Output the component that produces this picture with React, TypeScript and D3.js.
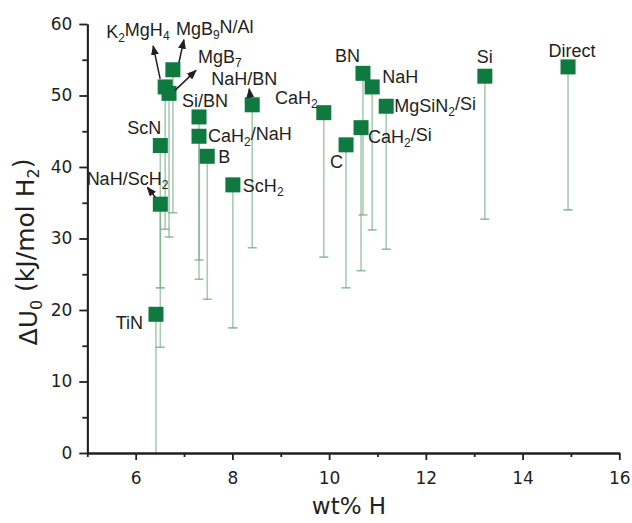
import React, { useEffect, useRef } from 'react';
import * as d3 from 'd3';

// compound names, "_n" marks a subscript digit
const names = ['TiN', 'NaH/ScH_2', 'ScN', 'K_2MgH_4', 'MgB_7', 'MgB_9N/Al', 'Si/BN', 'CaH_2/NaH', 'B', 'ScH_2',
  'NaH/BN', 'CaH_2', 'C', 'CaH_2/Si', 'BN', 'NaH', 'MgSiN_2/Si', 'Si', 'Direct'];
const wtH = [6.42, 6.51, 6.51, 6.61, 6.69, 6.77, 7.31, 7.31, 7.48, 8.01,
  8.41, 9.89, 10.35, 10.66, 10.70, 10.89, 11.18, 13.22, 14.94];
const dU0 = [19.4, 34.8, 43.0, 51.2, 50.3, 53.6, 47.0, 44.3, 41.5, 37.5,
  48.7, 47.6, 43.1, 45.5, 53.1, 51.2, 48.5, 52.7, 54.0];
// lower end of the error bars
const dU0Low = [-1, 14.8, 23.1, 31.3, 30.2, 33.6, 27.0, 24.3, 21.5, 17.5,
  28.7, 27.4, 23.1, 25.5, 33.3, 31.2, 28.5, 32.7, 34.0];

const xTicks = [6, 8, 10, 12, 14, 16];
const xMinor = [5, 7, 9, 11, 13, 15];
const yTicks = [0, 10, 20, 30, 40, 50, 60];
const yMinor = [5, 15, 25, 35, 45, 55];

// label placement relative to the marker (px); arrow = [tailDx, tailDy, tipDx, tipDy]
const labelLayout = {
  'TiN': { dx: -13, dy: 15, anchor: 'end' },
  'NaH/ScH_2': { dx: 8, dy: -19, anchor: 'end', arrow: [-5, -7, -13, -17] },
  'ScN': { dx: 1, dy: -12, anchor: 'end' },
  'K_2MgH_4': { dx: -59, dy: -49, anchor: 'start', arrow: [-5, -8, -12, -41] },
  'MgB_7': { dx: 29, dy: -30, anchor: 'start', arrow: [6, -3, 27, -23] },
  'MgB_9N/Al': { dx: 3, dy: -35, anchor: 'start', arrow: [6, -7, 11, -30] },
  'Si/BN': { dx: -17, dy: -10, anchor: 'start' },
  'CaH_2/NaH': { dx: 9, dy: 6, anchor: 'start' },
  'B': { dx: 11, dy: 7, anchor: 'start' },
  'ScH_2': { dx: 10, dy: 7, anchor: 'start' },
  'NaH/BN': { dx: -41, dy: -20, anchor: 'start', arrow: [-2, -8, -3, -16] },
  'CaH_2': { dx: -6, dy: -9, anchor: 'end' },
  'C': { dx: -3, dy: 23, anchor: 'end' },
  'CaH_2/Si': { dx: 7, dy: 15, anchor: 'start' },
  'BN': { dx: -3, dy: -11, anchor: 'end' },
  'NaH': { dx: 10, dy: -4, anchor: 'start' },
  'MgSiN_2/Si': { dx: 8, dy: 6, anchor: 'start' },
  'Si': { dx: 0, dy: -13, anchor: 'middle' },
  'Direct': { dx: 4, dy: -10, anchor: 'middle' },
};

const W = 632;
const H = 523;
const FILL = '#0f7a3f';
const BAR = '#6fa97d';
const INK = '#231f20';
const AXIS_FONT = '"DejaVu Sans", sans-serif';
const LABEL_FONT = '"Liberation Sans", Arial, sans-serif';

function addRichText(sel, str, subSize) {
  // split "CaH_2/NaH" into normal and subscript runs
  const parts = str.split(/(_\d)/).filter(p => p.length);
  let shifted = false;
  parts.forEach(p => {
    if (p[0] === '_') {
      sel.append('tspan').attr('font-size', subSize).attr('dy', '0.32em').text(p.slice(1));
      shifted = true;
    } else {
      const t = sel.append('tspan').text(p);
      if (shifted) { t.attr('dy', '-0.32em'); shifted = false; }
    }
  });
}

function App() {
  const svgRef = useRef(null);

  useEffect(() => {
    const svg = d3.select(svgRef.current);
    svg.selectAll('*').remove();

    const x = d3.scaleLinear().domain([5, 16]).range([87.3, 619.3]);
    const y = d3.scaleLinear().domain([0, 60]).range([453, 24]);

    const defs = svg.append('defs');
    defs.append('clipPath').attr('id', 'plotClip')
      .append('rect').attr('x', x(5)).attr('y', 0).attr('width', x(16) - x(5) + 5).attr('height', y(0));
    defs.append('marker')
      .attr('id', 'arrowHead')
      .attr('markerUnits', 'userSpaceOnUse')
      .attr('markerWidth', 10).attr('markerHeight', 8)
      .attr('refX', 9).attr('refY', 4)
      .attr('orient', 'auto')
      .append('path').attr('d', 'M0,0 L10,4 L0,8 Z').attr('fill', INK);

    const data = names.map((n, i) => ({ name: n, x: wtH[i], y: dU0[i], low: dU0Low[i] }));

    // error bars (lower side only)
    const bars = svg.append('g').attr('clip-path', 'url(#plotClip)');
    bars.selectAll('.eb').data(data).enter().append('line')
      .attr('x1', d => x(d.x)).attr('x2', d => x(d.x))
      .attr('y1', d => y(d.y)).attr('y2', d => y(d.low))
      .attr('stroke', BAR).attr('stroke-width', 1.6).attr('stroke-opacity', 0.6);
    bars.selectAll('.cap').data(data).enter().append('line')
      .attr('x1', d => x(d.x) - 4.5).attr('x2', d => x(d.x) + 4.5)
      .attr('y1', d => y(d.low)).attr('y2', d => y(d.low))
      .attr('stroke', BAR).attr('stroke-width', 1.6).attr('stroke-opacity', 0.75);

    // axes
    const styleAxis = g => {
      g.select('.domain').attr('stroke', INK).attr('stroke-width', 1.8);
      g.selectAll('line').attr('stroke', INK).attr('stroke-width', 1.8);
      g.selectAll('text').attr('fill', INK).attr('font-family', AXIS_FONT).attr('font-size', 17);
    };
    svg.append('g').attr('transform', `translate(0,${y(0)})`)
      .call(d3.axisBottom(x).tickValues(xMinor).tickSize(4).tickFormat(() => '').tickSizeOuter(0))
      .call(styleAxis);
    svg.append('g').attr('transform', `translate(0,${y(0)})`)
      .call(d3.axisBottom(x).tickValues(xTicks).tickSize(7).tickPadding(12).tickSizeOuter(0))
      .call(styleAxis);
    svg.append('g').attr('transform', `translate(${x(5)},0)`)
      .call(d3.axisLeft(y).tickValues(yMinor).tickSize(5).tickFormat(() => '').tickSizeOuter(0))
      .call(styleAxis);
    svg.append('g').attr('transform', `translate(${x(5)},0)`)
      .call(d3.axisLeft(y).tickValues(yTicks).tickSize(8).tickPadding(7).tickSizeOuter(0))
      .call(styleAxis);

    // axis titles
    svg.append('text')
      .attr('x', 349).attr('y', 514)
      .attr('text-anchor', 'middle').attr('font-family', AXIS_FONT).attr('font-size', 23).attr('fill', INK)
      .text('wt% H');
    const yt = svg.append('text')
      .attr('transform', 'translate(37,252) rotate(-90)')
      .attr('text-anchor', 'middle').attr('font-family', AXIS_FONT).attr('font-size', 25).attr('fill', INK);
    addRichText(yt, 'ΔU_0 (kJ/mol H_2)', 16);

    // markers
    svg.append('g').selectAll('rect').data(data).enter().append('rect')
      .attr('x', d => x(d.x) - 7.5).attr('y', d => y(d.y) - 7.5)
      .attr('width', 15).attr('height', 15)
      .attr('fill', FILL);

    // labels and arrows
    const lab = svg.append('g').attr('font-family', LABEL_FONT).attr('font-size', 18).attr('fill', INK);
    data.forEach(d => {
      const L = labelLayout[d.name];
      const px = x(d.x);
      const py = y(d.y);
      const t = lab.append('text').attr('x', px + L.dx).attr('y', py + L.dy).attr('text-anchor', L.anchor);
      addRichText(t, d.name, 12);
      if (L.arrow) {
        lab.append('line')
          .attr('x1', px + L.arrow[0]).attr('y1', py + L.arrow[1])
          .attr('x2', px + L.arrow[2]).attr('y2', py + L.arrow[3])
          .attr('stroke', INK).attr('stroke-width', 1.5)
          .attr('marker-end', 'url(#arrowHead)');
      }
    });
  }, []);

  return (
    <div style={{ position: 'absolute', left: 0, top: 0, background: '#fff' }}>
      <svg ref={svgRef} width={W} height={H}></svg>
    </div>
  );
}

export default App;
